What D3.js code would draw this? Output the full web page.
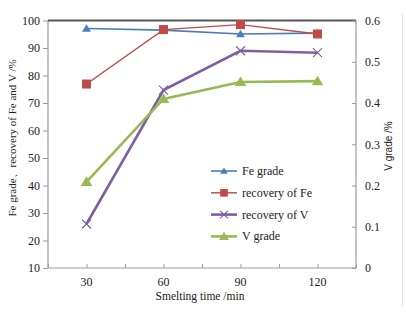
<!DOCTYPE html>
<html><head><meta charset="utf-8">
<script src="https://cdn.jsdelivr.net/npm/d3@7"></script>
<style>body{margin:0;background:#fff}svg{display:block}</style>
</head><body>
<script>
const times = [30, 60, 90, 120];
const feGrade = [97.1, 96.5, 95.1, 95.4];
const recFe = [76.9, 96.7, 98.5, 95.1];
const recV = [26.0, 74.7, 89.0, 88.3];
const vGrade = [0.209, 0.41, 0.451, 0.453];
const leftTicks = [10, 20, 30, 40, 50, 60, 70, 80, 90, 100];
const rightTicks = [0, 0.1, 0.2, 0.3, 0.4, 0.5, 0.6];
const xLabels = [30, 60, 90, 120];
const xTicks = [15, 30, 45, 60, 75, 90, 105, 120, 135];

const W = 406, H = 316;
const svg = d3.select("body").append("svg").attr("width", W).attr("height", H);
const L = 48, R = 356, T = 20.5, B = 268;
const x = d3.scaleLinear().domain([15, 135]).range([L, R]);
const y = d3.scaleLinear().domain([10, 100]).range([B, T]);
const y2 = d3.scaleLinear().domain([0, 0.6]).range([B, T]);
const serif = "'Liberation Serif','DejaVu Serif',serif";

// image side line
svg.append("line").attr("x1", 402.5).attr("x2", 402.5).attr("y1", 14).attr("y2", 306)
  .attr("stroke", "#e4e4e4").attr("stroke-width", 1);

// plot frame
const frame = svg.append("g").attr("stroke", "#9a9a9a").attr("stroke-width", 1.2).attr("fill", "none");
frame.append("line").attr("x1", L).attr("x2", L).attr("y1", T).attr("y2", B);
frame.append("line").attr("x1", R).attr("x2", R).attr("y1", T).attr("y2", B);
frame.append("line").attr("x1", L).attr("x2", R).attr("y1", B).attr("y2", B);
svg.append("line").attr("x1", L).attr("x2", R).attr("y1", y(100)).attr("y2", y(100))
  .attr("stroke", "#555").attr("stroke-width", 2.2);

// left axis
const gl = svg.append("g").attr("transform", `translate(${L},0)`)
  .call(d3.axisLeft(y).tickValues(leftTicks).tickSize(5).tickPadding(3).tickFormat(d3.format("d")));
gl.select(".domain").remove();
gl.selectAll("line").attr("stroke", "#9a9a9a");
gl.selectAll("text").attr("font-family", serif).attr("font-size", 12).attr("fill", "#222");

// right axis
const gr = svg.append("g").attr("transform", `translate(${R},0)`)
  .call(d3.axisRight(y2).tickValues(rightTicks).tickSize(-4).tickPadding(9).tickFormat(d => d === 0 ? "0" : d3.format(".1f")(d)));
gr.select(".domain").remove();
gr.selectAll("line").attr("stroke", "#9a9a9a");
gr.selectAll("text").attr("font-family", serif).attr("font-size", 12).attr("fill", "#222");

// x axis
const gx = svg.append("g").attr("transform", `translate(0,${B})`)
  .call(d3.axisBottom(x).tickValues(xTicks).tickSize(-4).tickFormat(""));
gx.select(".domain").remove();
gx.selectAll("line").attr("stroke", "#9a9a9a");
svg.append("g").selectAll("text").data(xLabels).join("text")
  .attr("x", d => x(d)).attr("y", 286).attr("text-anchor", "middle")
  .attr("font-family", serif).attr("font-size", 12).attr("fill", "#222").text(d => d);

// titles
svg.append("text").attr("x", 200).attr("y", 299.5).attr("text-anchor", "middle")
  .attr("font-family", serif).attr("font-size", 11.5).attr("fill", "#222").text("Smelting time /min");
svg.append("text").attr("transform", "translate(16,138) rotate(-90)").attr("text-anchor", "middle")
  .attr("font-family", serif).attr("font-size", 11).attr("fill", "#222").text("Fe grade、recovery of Fe and V /%");
svg.append("text").attr("transform", "translate(392,146) rotate(-90)").attr("text-anchor", "middle")
  .attr("font-family", "'Liberation Sans',Arial,sans-serif").attr("font-size", 10).attr("fill", "#222").text("V grade /%");

const series = [
  {name: "Fe grade", vals: feGrade, sc: y, color: "#4a7ebb", w: 1.6, m: "tri", ms: 4.2},
  {name: "recovery of Fe", vals: recFe, sc: y, color: "#be4b48", w: 1.4, m: "sq", ms: 4.5},
  {name: "recovery of V", vals: recV, sc: y, color: "#7d60a0", w: 2.6, m: "x", ms: 4.5},
  {name: "V grade", vals: vGrade, sc: y2, color: "#98b954", w: 2.6, m: "tri", ms: 5.5}
];

function marker(g, type, cx, cy, s, color) {
  if (type === "tri") {
    g.append("path").attr("d", `M${cx},${cy - s}L${cx + s * 1.05},${cy + s * 0.75}L${cx - s * 1.05},${cy + s * 0.75}Z`).attr("fill", color);
  } else if (type === "sq") {
    g.append("rect").attr("x", cx - s).attr("y", cy - s).attr("width", 2 * s).attr("height", 2 * s).attr("fill", color);
  } else {
    g.append("path").attr("d", `M${cx - s},${cy - s}L${cx + s},${cy + s}M${cx - s},${cy + s}L${cx + s},${cy - s}`)
      .attr("stroke", color).attr("stroke-width", 1.1).attr("fill", "none");
  }
}

series.forEach(s => {
  const line = d3.line().x((d, i) => x(times[i])).y(d => s.sc(d));
  svg.append("path").datum(s.vals).attr("d", line).attr("fill", "none")
    .attr("stroke", s.color).attr("stroke-width", s.w);
});
series.forEach(s => {
  const g = svg.append("g");
  s.vals.forEach((v, i) => marker(g, s.m, x(times[i]), s.sc(v), s.ms, s.color));
});

// legend
const lg = svg.append("g");
series.forEach((s, i) => {
  const ly = 171 + i * 21.8;
  lg.append("line").attr("x1", 211).attr("x2", 237).attr("y1", ly).attr("y2", ly)
    .attr("stroke", s.color).attr("stroke-width", s.w);
  marker(lg, s.m, 224, ly, s.ms * 0.85, s.color);
  lg.append("text").attr("x", 242).attr("y", ly + 4).attr("font-family", serif)
    .attr("font-size", 12).attr("fill", "#222").text(s.name);
});
</script>
</body></html>
